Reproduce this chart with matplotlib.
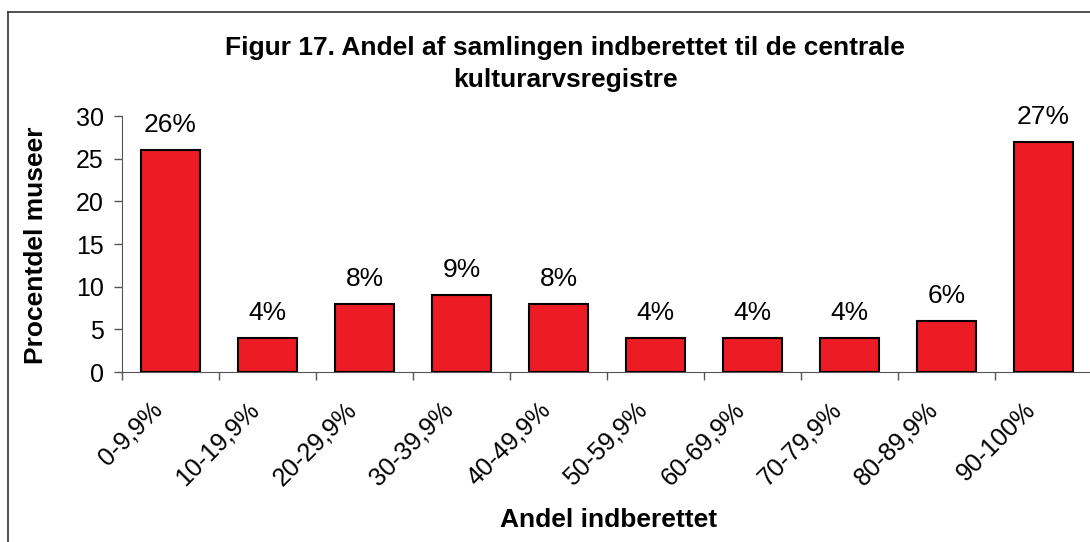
import matplotlib.pyplot as plt
from matplotlib.lines import Line2D
from matplotlib.transforms import ScaledTranslation

categories = ['0-9,9%', '10-19,9%', '20-29,9%', '30-39,9%', '40-49,9%',
              '50-59,9%', '60-69,9%', '70-79,9%', '80-89,9%', '90-100%']
values = [26, 4, 8, 9, 8, 4, 4, 4, 6, 27]
yticks = [0, 5, 10, 15, 20, 25, 30]

plt.rcParams['font.family'] = ['Liberation Sans', 'DejaVu Sans']

W, H = 1090, 542
fig = plt.figure(figsize=(W / 100, H / 100), dpi=100)
ax = fig.add_axes([122 / W, 1 - 372 / H, (1092 - 122) / W, (372 - 116) / H])

x = range(len(categories))
bars = ax.bar(x, values, width=0.6, color='#ED1C24', edgecolor='black', linewidth=1.5, zorder=3)
for b, v in zip(bars, values):
    ax.text(b.get_x() + b.get_width() / 2, v + 1.5, f'{v}%', ha='center', va='bottom', fontsize=19)

ax.set_xlim(-0.5, len(categories) - 0.5)
ax.set_ylim(0, 30)
ax.set_yticks(yticks)
ax.tick_params(axis='y', labelsize=18, length=6, width=1, color='#555555', pad=7)

# ticks sit between the bars, labels at bar centres
ax.set_xticks([i - 0.5 for i in range(len(categories) + 1)], minor=False)
ax.set_xticklabels([])
ax.set_xticks(list(x), minor=True)
ax.set_xticklabels(categories, minor=True, rotation=45, ha='right', va='center',
                   rotation_mode='anchor', fontsize=18)
ax.tick_params(axis='x', which='major', length=6, width=1, color='#555555')
ax.tick_params(axis='x', which='minor', length=0, pad=28)
shift = ScaledTranslation(-12 / 100, 5 / 100, fig.dpi_scale_trans)
for lab in ax.get_xticklabels(minor=True):
    lab.set_transform(lab.get_transform() + shift)

for s in ['top', 'right']:
    ax.spines[s].set_visible(False)
ax.spines['left'].set_color('#555555')
ax.spines['bottom'].set_color('#555555')

fig.text(36 / W, 1 - 245 / H, 'Procentdel museer', rotation=90, ha='center', va='center',
         fontsize=19, fontweight='bold')
fig.text(609 / W, 1 - 520 / H, 'Andel indberettet', ha='center', va='center',
         fontsize=19, fontweight='bold')
fig.text(565 / W, 1 - 64 / H, 'Figur 17. Andel af samlingen indberettet til de centrale\nkulturarvsregistre',
         ha='center', va='center', fontsize=19, fontweight='bold', linespacing=1.4)

# frame of the chart area (only top and left visible in the crop)
fig.add_artist(Line2D([7.5 / W, 7.5 / W], [0, 1 - 12 / H], transform=fig.transFigure, color='#333333', lw=1.2))
fig.add_artist(Line2D([7.5 / W, 1], [1 - 12 / H, 1 - 12 / H], transform=fig.transFigure, color='#333333', lw=1.2))

fig.savefig('out.png', dpi=100)
